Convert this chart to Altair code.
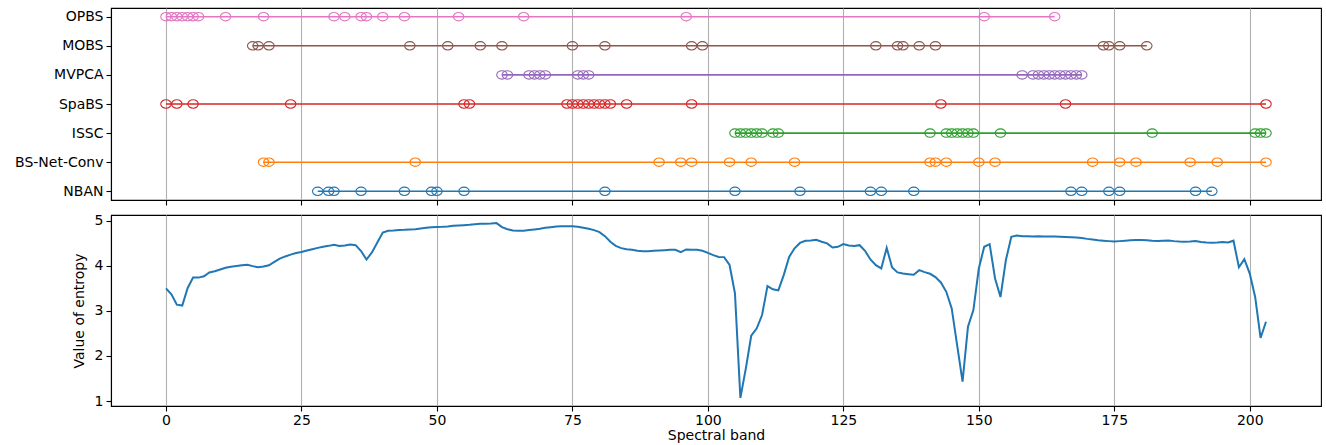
import altair as alt
import pandas as pd

methods = ["OPBS", "MOBS", "MVPCA", "SpaBS", "ISSC", "BS-Net-Conv", "NBAN"]
colors = ["#e377c2", "#8c564b", "#9467bd", "#d62728", "#2ca02c", "#ff7f0e", "#1f77b4"]

opbs = [0, 1, 2, 3, 4, 5, 6, 11, 18, 31, 33, 36, 37, 40, 44, 54, 66, 96, 151, 164]
mobs = [16, 17, 19, 45, 52, 58, 62, 75, 81, 97, 99, 131, 135, 136, 139, 142, 173, 174, 176, 181]
mvpca = [62, 63, 67, 68, 69, 70, 76, 77, 78, 158, 160, 161, 162, 163, 164, 165, 166, 167, 168, 169]
spabs = [0, 2, 5, 23, 55, 56, 74, 75, 76, 77, 78, 79, 80, 81, 82, 85, 97, 143, 166, 203]
issc = [105, 106, 107, 108, 109, 110, 112, 113, 141, 144, 145, 146, 147, 148, 149, 154, 182, 201, 202, 203]
bsnet = [18, 19, 46, 91, 95, 97, 104, 108, 116, 141, 142, 144, 150, 153, 171, 176, 179, 189, 194, 203]
nban = [28, 30, 31, 36, 44, 49, 50, 55, 81, 105, 117, 130, 132, 138, 167, 169, 174, 176, 190, 193]
selections = [opbs, mobs, mvpca, spabs, issc, bsnet, nban]

entropy = [
    3.50, 3.37, 3.14, 3.12, 3.51, 3.74, 3.74, 3.77, 3.855, 3.88,
    3.92, 3.96, 3.98, 4.00, 4.015, 4.025, 3.995, 3.97, 3.985, 4.015,
    4.09, 4.16, 4.21, 4.25, 4.285, 4.31, 4.34, 4.37, 4.40, 4.425,
    4.445, 4.47, 4.44, 4.455, 4.475, 4.46, 4.33, 4.14, 4.30, 4.52,
    4.74, 4.78, 4.785, 4.795, 4.80, 4.81, 4.815, 4.83, 4.845, 4.86,
    4.865, 4.867, 4.875, 4.89, 4.897, 4.905, 4.912, 4.927, 4.934, 4.935,
    4.94, 4.95, 4.86, 4.815, 4.785, 4.78, 4.78, 4.795, 4.81, 4.825,
    4.845, 4.86, 4.875, 4.882, 4.882, 4.882, 4.867, 4.845, 4.823, 4.794,
    4.75, 4.66, 4.535, 4.446, 4.394, 4.372, 4.357, 4.335, 4.328, 4.328,
    4.335, 4.343, 4.35, 4.357, 4.357, 4.305, 4.365, 4.357, 4.357, 4.335,
    4.29, 4.24, 4.20, 4.195, 4.02, 3.39, 1.07, 1.72, 2.45, 2.61,
    2.91, 3.55, 3.48, 3.455, 3.795, 4.20, 4.39, 4.51, 4.557, 4.564,
    4.58, 4.535, 4.50, 4.41, 4.424, 4.483, 4.453, 4.44, 4.46, 4.335,
    4.143, 4.017, 3.943, 4.40, 3.965, 3.855, 3.832, 3.817, 3.802, 3.906,
    3.862, 3.825, 3.751, 3.632, 3.425, 3.056, 2.242, 1.43, 2.65, 3.02,
    3.943, 4.424, 4.483, 3.72, 3.31, 4.13, 4.646, 4.675, 4.66, 4.66,
    4.655, 4.66, 4.655, 4.65, 4.65, 4.645, 4.64, 4.635, 4.63, 4.62,
    4.60, 4.585, 4.57, 4.56, 4.55, 4.54, 4.55, 4.56, 4.57, 4.575,
    4.575, 4.57, 4.56, 4.555, 4.56, 4.565, 4.55, 4.54, 4.535, 4.54,
    4.55, 4.53, 4.52, 4.515, 4.52, 4.53, 4.52, 4.56, 3.97, 4.15,
    3.83, 3.31, 2.40, 2.76,
]

x_ticks = [0, 25, 50, 75, 100, 125, 150, 175, 200]
y_ticks = [1, 2, 3, 4, 5]

rows = []
for m, sel in zip(methods, selections):
    for b in sel:
        rows.append({"method": m, "band": b})
sel_df = pd.DataFrame(rows)
ent_df = pd.DataFrame({"band": list(range(len(entropy))), "entropy": entropy})

FONT = "DejaVu Sans"
xdom = [-10.15, 213.15]
W = 1210

ell = ("M 1 0 C 1 0.4418 0.5523 0.8 0 0.8 C -0.5523 0.8 -1 0.4418 -1 0 "
       "C -1 -0.4418 -0.5523 -0.8 0 -0.8 C 0.5523 -0.8 1 -0.4418 1 0 Z")

xs_top = alt.X("band:Q", scale=alt.Scale(domain=xdom, nice=False, zero=False),
               axis=alt.Axis(values=x_ticks, labels=False, title=None, grid=True,
                             ticks=True))
ys_top = alt.Y("method:N", sort=methods,
               scale=alt.Scale(domain=methods, padding=0.3),
               axis=alt.Axis(title=None, grid=False))
col = alt.Color("method:N", scale=alt.Scale(domain=methods, range=colors), legend=None)

base_top = alt.Chart(sel_df).encode(x=xs_top, y=ys_top, color=col, detail="method:N")
lines_top = base_top.mark_line(strokeWidth=1.6)
pts_top = base_top.mark_point(shape=ell, filled=False, size=110, strokeWidth=1.1, opacity=1)
top = alt.layer(lines_top, pts_top).properties(width=W, height=192)

bottom = alt.Chart(ent_df).mark_line(color="#1f77b4", strokeWidth=2).encode(
    x=alt.X("band:Q", scale=alt.Scale(domain=xdom, nice=False, zero=False),
            axis=alt.Axis(values=x_ticks, title="Spectral band", grid=True, format="d",
                          labelPadding=2, titlePadding=1)),
    y=alt.Y("entropy:Q", scale=alt.Scale(domain=[0.89, 5.13], nice=False, zero=False),
            axis=alt.Axis(values=y_ticks, title="Value of entropy", grid=False, format="d")),
).properties(width=W, height=191)

chart = alt.vconcat(top, bottom, spacing=6).properties(
    autosize=alt.AutoSizeParams(type="pad"),
    padding={"left": 14, "top": 7, "right": 4, "bottom": 0},
    background="white",
).configure_view(stroke="#000000", strokeWidth=1.1).configure_axis(
    labelFont=FONT, labelFontSize=14, labelColor="#000000",
    titleFont=FONT, titleFontSize=14, titleFontWeight="normal", titleColor="#000000",
    tickColor="#000000", tickSize=5, tickWidth=1.1, domainColor="#000000", domainWidth=1.1,
    gridColor="#b0b0b0", gridWidth=1.1, labelPadding=3,
).configure_axisY(titlePadding=8)

chart.save("out.html", embed_options={"renderer": "svg", "actions": False})
